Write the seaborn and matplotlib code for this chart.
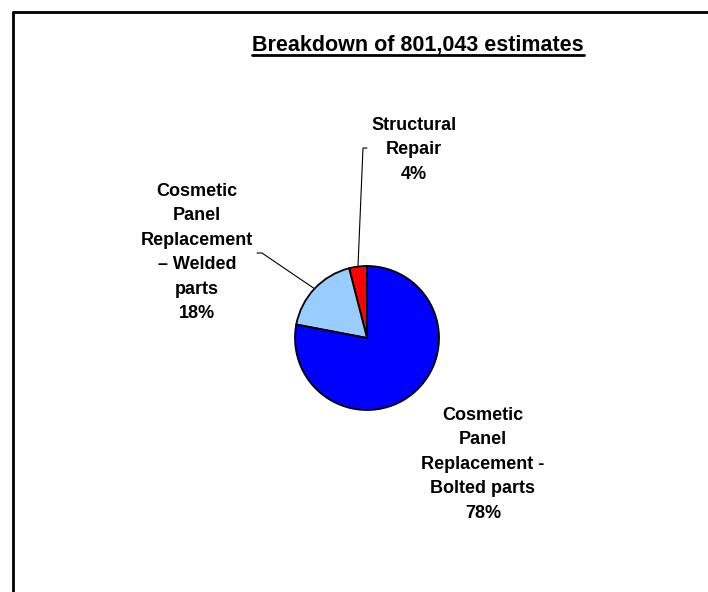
import numpy as np
import matplotlib
matplotlib.use("Agg")
import matplotlib.pyplot as plt
from matplotlib import font_manager
import seaborn as sns

# data
categories = ["Structural\nRepair", "Cosmetic\nPanel\nReplacement\n\u2013 Welded\nparts",
              "Cosmetic\nPanel\nReplacement -\nBolted parts"]
shares = [4, 18, 78]
colors = ["#FF0000", "#99CCFF", "#0000FF"]
title = "Breakdown of 801,043 estimates"

sns.set_theme(style="white")
plt.rcParams['font.family'] = ['Liberation Sans', 'DejaVu Sans']
plt.rcParams['text.color'] = 'black'

# narrow face for the title if it is around
try:
    font_manager.findfont(font_manager.FontProperties(family='Liberation Sans Narrow'),
                          fallback_to_default=False)
    title_family, title_size = ['Liberation Sans Narrow', 'Liberation Sans'], 18
except ValueError:
    title_family, title_size = ['Liberation Sans', 'DejaVu Sans'], 15.5

W, H = 708, 592
fig = plt.figure(figsize=(W / 100, H / 100), dpi=100)
ax = fig.add_axes([0, 0, 1, 1])

# pixel-space helper: y measured from top
def py(y):
    return H - y

cx, cy, r = 367, py(338), 72
wedges, _ = ax.pie(shares, colors=colors, startangle=90, counterclock=True,
                   center=(cx, cy), radius=r, frame=True,
                   wedgeprops=dict(edgecolor='black', linewidth=1.3))
ax.set_xlim(0, W)
ax.set_ylim(0, H)
ax.axis('off')

# label layout: (text centre x, top line y, leader bend, tick end)
layout = [
    dict(x=414, y=126, bend=(363, 148), tick=(367, 148)),
    dict(x=197, y=192, bend=(262, 253), tick=(257, 253)),
    dict(x=483, y=416, bend=None, tick=None),
]

for w, lab, pct, lay in zip(wedges, categories, shares, layout):
    txt = f"{lab}\n{pct}%"
    ax.text(lay['x'], py(lay['y'] - 9), txt, ha='center', va='top',
            fontsize=13, fontweight='bold', linespacing=1.57, color='black')
    if lay['bend'] is not None:
        mid = np.deg2rad((w.theta1 + w.theta2) / 2)
        sx, sy = cx + r * np.cos(mid), cy + r * np.sin(mid)
        bx, by = lay['bend']
        tx, ty = lay['tick']
        ax.plot([sx, bx, tx], [sy, py(by), py(ty)], color='black', lw=0.8)

# title with underline
t = ax.text(418, py(45), title, ha='center', va='center', fontsize=title_size,
            fontweight='bold', family=title_family, color='black')
fig.canvas.draw()
bb = t.get_window_extent().transformed(ax.transData.inverted())
ax.plot([bb.x0, bb.x1], [bb.y0 + 1, bb.y0 + 1], color='black', lw=2)

# outer frame (top and left edges visible)
ax.plot([13, W], [py(12), py(12)], color='black', lw=2, clip_on=False)
ax.plot([13, 13], [py(12), 0], color='black', lw=2, clip_on=False)

fig.savefig("out.png", dpi=100, facecolor='white')
